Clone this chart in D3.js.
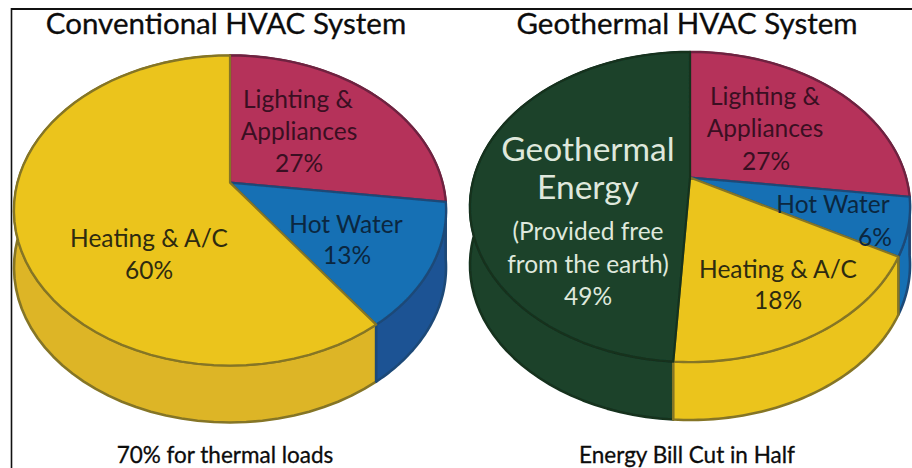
<!DOCTYPE html>
<html><head><meta charset="utf-8">
<script src="https://cdn.jsdelivr.net/npm/d3@7"></script>
<style>html,body{margin:0;padding:0;background:#fff}svg{display:block}</style></head>
<body><svg id="c" width="912" height="468"></svg>
<script>
const categoriesLeft = ["Lighting & Appliances", "Hot Water", "Heating & A/C"];
const valuesLeft = [27, 13, 60];
const categoriesRight = ["Lighting & Appliances", "Hot Water", "Heating & A/C", "Geothermal Energy"];
const valuesRight = [27, 6, 18, 49];
const titles = ["Conventional HVAC System", "Geothermal HVAC System"];
const captions = ["70% for thermal loads", "Energy Bill Cut in Half"];
const palette = {
  "Lighting & Appliances": {top:"#B5305A", side:"#8E2747", line:"#6E2340"},
  "Hot Water": {top:"#1270B4", side:"#1F5394", line:"#1F4A78"},
  "Heating & A/C": {top:"#EBC41E", side:"#DDB526", line:"#857525"},
  "Geothermal Energy": {top:"#1B432C", side:"#1B432C", line:"#13301F"}
};
const svg = d3.select("#c");
svg.append("defs").append("filter").attr("id","soft").append("feGaussianBlur").attr("stdDeviation",0.5);
const frame = svg.append("g").attr("stroke","#111");
frame.append("line").attr("x1",11.5).attr("x2",11.5).attr("y1",8).attr("y2",468).attr("stroke-width",1.6);
frame.append("line").attr("x1",11).attr("x2",912).attr("y1",9).attr("y2",9).attr("stroke-width",2.2);

function drawPie(cats, vals, geo) {
  const g = svg.append("g").attr("filter","url(#soft)");
  const slices = d3.pie().sort(null)(vals).map((d,i)=>({...d,cat:cats[i]}));
  // perspective projection of the unit disc onto the ellipse: the apex sits above the ellipse centre
  const proj = (a, r=1, dz=0) => {
    const u = r*Math.sin(a), v = -r*Math.cos(a), b = geo.b, w = 1 + b*v;
    return [geo.cx + geo.rx*u*Math.sqrt(1-b*b)/w, geo.cy + geo.ry*(v+b)/w + dz];
  };
  const line = d3.line();
  const rim = (a0,a1,dz=0) => d3.range(0,61).map(k=>proj(a0+(a1-a0)*k/60,1,dz));
  // sides, back to front
  slices.slice().sort((p,q)=>Math.abs(Math.PI-(q.startAngle+q.endAngle)/2)-Math.abs(Math.PI-(p.startAngle+p.endAngle)/2)).forEach(s=>{
    const pts = rim(s.startAngle,s.endAngle).concat(rim(s.startAngle,s.endAngle,geo.depth).reverse());
    const c = palette[s.cat];
    g.append("path").attr("d",line(pts)+"Z")
      .attr("fill",geo.flatSide ? c.top : c.side).attr("stroke",c.line).attr("stroke-width",2.6).attr("stroke-linejoin","round");
  });
  // top faces
  slices.forEach(s=>{
    const pts = [proj(0,0)].concat(rim(s.startAngle,s.endAngle));
    g.append("path").attr("d",line(pts)+"Z")
      .attr("fill",palette[s.cat].top).attr("stroke",palette[s.cat].line).attr("stroke-width",2.2).attr("stroke-linejoin","round");
  });
}
drawPie(categoriesLeft, valuesLeft, {cx:230,cy:210.5,rx:216,ry:155,b:-0.18,depth:57});
drawPie(categoriesRight, valuesRight, {cx:690,cy:207,rx:220,ry:155,b:-0.19,depth:58,flatSide:true});

const head = svg.append("g").attr("font-family","Lato, 'Open Sans', sans-serif").attr("fill","#0c0c0c").attr("stroke","#0c0c0c").attr("stroke-width",0.3).attr("text-anchor","middle");
[[226,titles[0]],[687,titles[1]]].forEach(([x,t])=>head.append("text").attr("x",x).attr("y",34).attr("font-size",29.5).text(t));
[[225,captions[0]],[687,captions[1]]].forEach(([x,t])=>head.append("text").attr("x",x).attr("y",463).attr("font-size",22.5).text(t));

const dark = {red:"#3a0f22", blue:"#0b2740", yel:"#2e2b10", pale:"#dfe8dc"};
const labelLayout = [
  {x:298,y:108,t:"Lighting &",f:dark.red,s:24.5},{x:299,y:140,t:"Appliances",f:dark.red,s:24.5},{x:299,y:172,t:"27%",f:dark.red,s:24.5},
  {x:346,y:233,t:"Hot Water",f:dark.blue,s:24.5},{x:347,y:264,t:"13%",f:dark.blue,s:24.5},
  {x:149,y:247,t:"Heating & A/C",f:dark.yel,s:24.5},{x:149,y:279,t:"60%",f:dark.yel,s:24.5},
  {x:765,y:105,t:"Lighting &",f:dark.red,s:24.5},{x:765,y:137,t:"Appliances",f:dark.red,s:24.5},{x:766,y:170,t:"27%",f:dark.red,s:24.5},
  {x:833,y:213,t:"Hot Water",f:dark.blue,s:24.5},{x:875,y:246,t:"6%",f:dark.blue,s:24.5},
  {x:778,y:278,t:"Heating & A/C",f:dark.yel,s:24.5},{x:778,y:309,t:"18%",f:dark.yel,s:24.5},
  {x:588,y:161,t:"Geothermal",f:dark.pale,s:33.5},{x:588,y:199,t:"Energy",f:dark.pale,s:33.5},
  {x:588,y:240,t:"(Provided free",f:dark.pale,s:24.5},{x:588,y:273,t:"from the earth)",f:dark.pale,s:24.5},{x:588,y:305,t:"49%",f:dark.pale,s:24.5}
];
svg.append("g").attr("font-family","Lato, sans-serif").attr("font-weight",400).attr("text-anchor","middle")
  .selectAll("text").data(labelLayout).join("text")
  .attr("x",d=>d.x).attr("y",d=>d.y).attr("fill",d=>d.f).attr("font-size",d=>d.s).text(d=>d.t);
</script></body></html>
